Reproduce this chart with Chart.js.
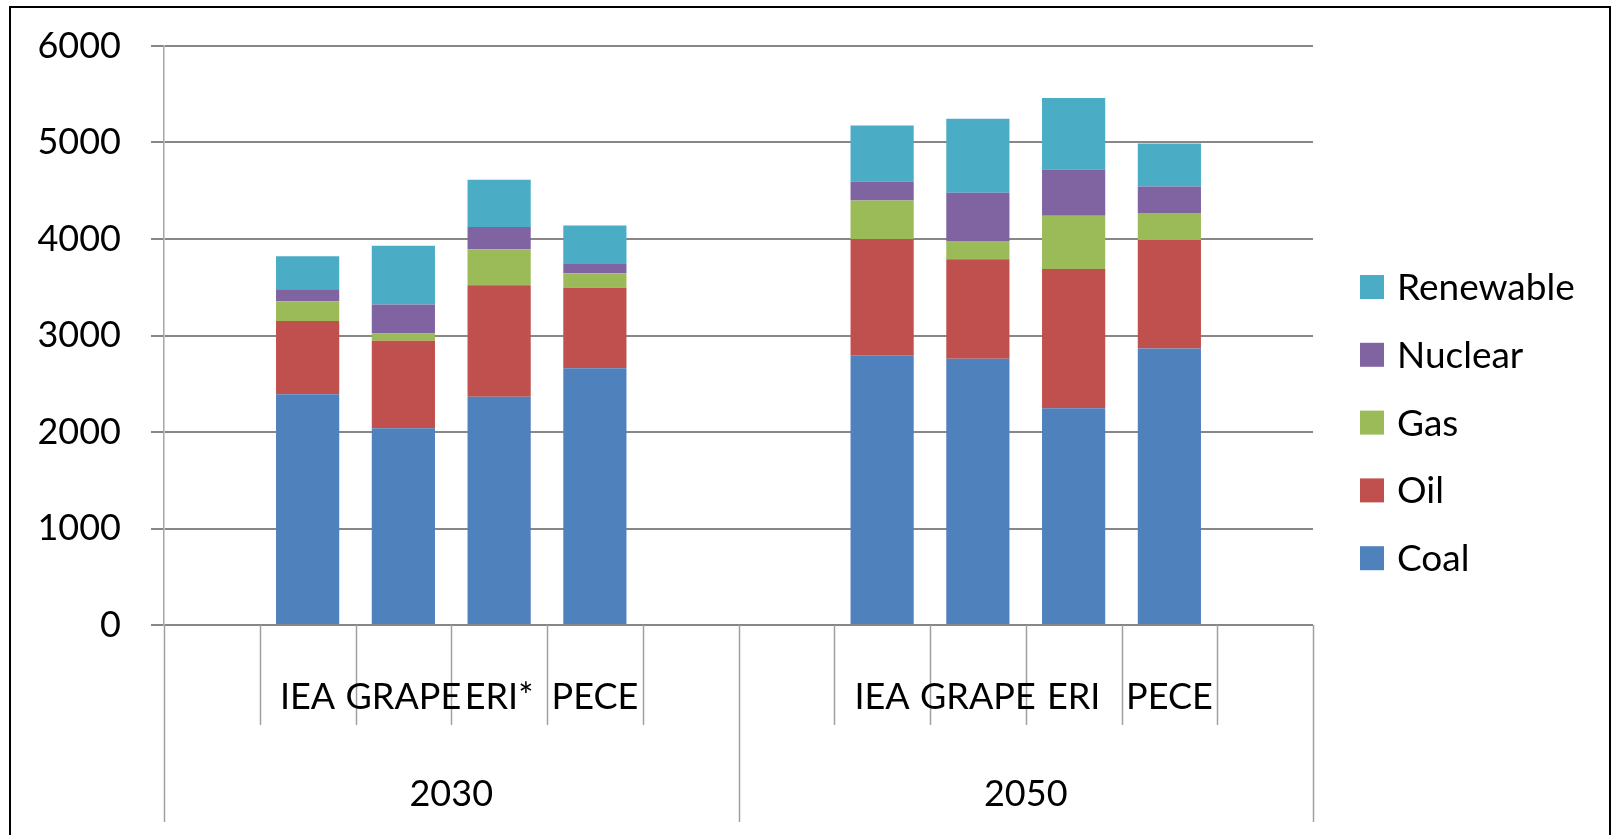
<!DOCTYPE html>
<html>
<head>
<meta charset="utf-8">
<script src="https://cdn.jsdelivr.net/npm/chart.js@4.4.1/dist/chart.umd.min.js"></script>
<style>
  html, body { margin: 0; padding: 0; background: #fff; }
  #wrap { width: 1612px; height: 835px; position: relative; }
</style>
</head>
<body>
<div id="wrap"><canvas id="myChart"></canvas></div>
<script>
'use strict';

// data (segment sizes, not cumulative)
var years = ['2030', '2050'];
var models2030 = ['IEA', 'GRAPE', 'ERI*', 'PECE'];
var models2050 = ['IEA', 'GRAPE', 'ERI', 'PECE'];
var seriesNames = ['Coal', 'Oil', 'Gas', 'Nuclear', 'Renewable'];
var seriesColors = ['#4F81BD', '#C0504D', '#9BBB59', '#8064A2', '#4BACC6'];

var coal = [2390, 2040, 2365, 2660, 2795, 2760, 2245, 2865];
var oil = [760, 905, 1155, 835, 1205, 1030, 1445, 1125];
var gas = [205, 75, 375, 150, 400, 190, 550, 280];
var nuclear = [125, 300, 230, 95, 195, 500, 480, 275];
var renewable = [340, 610, 490, 400, 580, 765, 740, 445];

var yTicks = [0, 1000, 2000, 3000, 4000, 5000, 6000];

// each year group has an empty slot on both sides
function padGroups(values) {
    return [null].concat(values.slice(0, 4), [null, null], values.slice(4, 8), [null]);
}
var labels = padGroups(models2030.concat(models2050)).map(function (l) { return l || ''; });
var allSeries = [coal, oil, gas, nuclear, renewable];

var datasets = [];
for (var i = 0; i < allSeries.length; i++) {
    datasets.push({
        label: seriesNames[i],
        data: padGroups(allSeries[i]),
        backgroundColor: seriesColors[i],
        borderWidth: 0,
        categoryPercentage: 0.66,
        barPercentage: 1
    });
}

var FONT = '36px Lato';

var frameAndAxis = {
    id: 'frameAndAxis',
    afterDraw: function (chart) {
        var ctx = chart.ctx;
        var x = chart.scales.x;
        var area = chart.chartArea;
        var slot = x.getPixelForValue(1) - x.getPixelForValue(0);
        var start = x.getPixelForValue(0) - slot / 2;
        var n = labels.length;

        ctx.save();
        // category tick lines
        ctx.strokeStyle = '#a0a0a0';
        ctx.lineWidth = 1.5;
        for (var k = 0; k <= n; k++) {
            var px = Math.round(start + k * slot) + 0.5;
            var outer = (k % 6 === 0);
            ctx.beginPath();
            ctx.moveTo(px, area.bottom);
            ctx.lineTo(px, outer ? 822 : 725);
            ctx.stroke();
        }
        // inner labels
        ctx.fillStyle = '#000';
        ctx.font = FONT;
        ctx.textAlign = 'center';
        ctx.textBaseline = 'middle';
        for (var j = 0; j < n; j++) {
            if (labels[j]) {
                ctx.fillText(labels[j], x.getPixelForValue(j), 697);
            }
        }
        // year labels
        for (var g = 0; g < years.length; g++) {
            var cx = start + (g * 6 + 3) * slot;
            ctx.fillText(years[g], cx, 794);
        }

        // legend, top entry is the last series
        ctx.textAlign = 'left';
        ctx.font = '37px Lato';
        var legendY = 287;
        for (var s = chart.data.datasets.length - 1; s >= 0; s--) {
            var ds = chart.data.datasets[s];
            ctx.fillStyle = ds.backgroundColor;
            ctx.fillRect(1360, legendY - 12, 24, 24);
            ctx.fillStyle = '#000';
            ctx.fillText(ds.label, 1397, legendY + 1);
            legendY += 67.8;
        }

        // outer frame
        ctx.strokeStyle = '#000';
        ctx.lineWidth = 2;
        ctx.strokeRect(10, 7, 1600, 900);
        ctx.restore();
    }
};

Chart.defaults.font.family = 'Lato';

var ctx = document.getElementById('myChart').getContext('2d');
var chart = new Chart(ctx, {
    type: 'bar',
    data: {
        labels: labels,
        datasets: datasets
    },
    options: {
        responsive: true,
        maintainAspectRatio: false,
        animation: false,
        devicePixelRatio: 1,
        layout: {
            padding: { left: 0, top: 46, right: 299, bottom: 210 }
        },
        plugins: {
            legend: { display: false },
            tooltip: { enabled: false }
        },
        scales: {
            x: {
                stacked: true,
                display: false
            },
            y: {
                stacked: true,
                min: yTicks[0],
                max: yTicks[yTicks.length - 1],
                afterFit: function (scale) {
                    scale.width = 164;
                    scale.paddingTop = 0;
                    scale.paddingBottom = 0;
                },
                afterBuildTicks: function (scale) {
                    scale.ticks = yTicks.map(function (v) { return { value: v }; });
                },
                ticks: {
                    color: '#000',
                    padding: 30,
                    font: { size: 36, family: 'Lato' },
                    callback: function (value) { return String(value); }
                },
                grid: {
                    color: '#878787',
                    lineWidth: 2,
                    tickLength: 13,
                    drawTicks: true
                },
                border: {
                    color: '#a6a6a6',
                    width: 1.5
                }
            }
        }
    },
    plugins: [frameAndAxis]
});
</script>
</body>
</html>
